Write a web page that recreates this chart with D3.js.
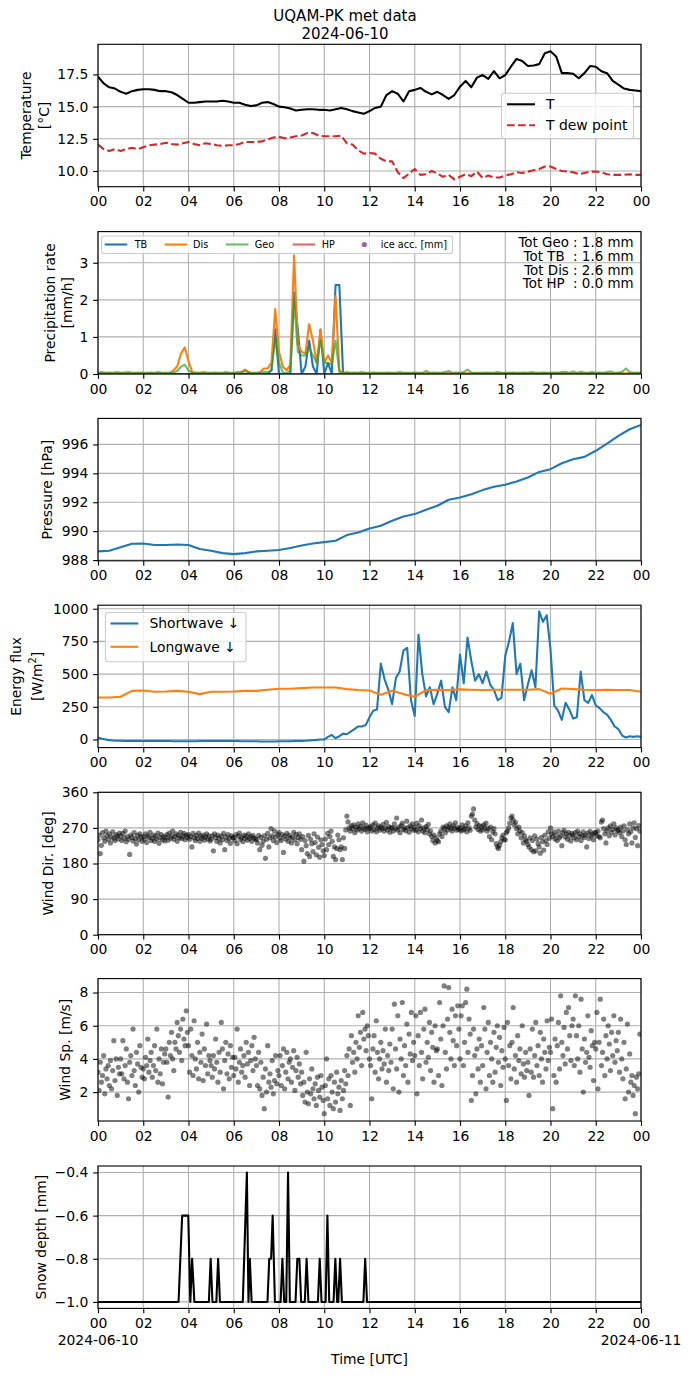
<!DOCTYPE html>
<html>
<head>
<meta charset="utf-8">
<script src="https://cdn.jsdelivr.net/npm/d3@7"></script>
<style>
  body { margin: 0; background: #fff; }
  svg text { font-family: "DejaVu Sans", sans-serif; }
</style>
</head>
<body>
<script>
// ---- data ----
const day0 = new Date(Date.UTC(2024, 5, 10));
const day1 = new Date(Date.UTC(2024, 5, 11));

// temperature [°C], every 15 min
const tempStep = 15;
const airTemp = [
  17.32, 16.8, 16.5, 16.4, 16.15, 16.0, 16.2, 16.3, 16.35, 16.35, 16.3, 16.2,
  16.2, 16.12, 15.9, 15.6, 15.3, 15.3, 15.35, 15.4, 15.4, 15.4, 15.45, 15.4,
  15.3, 15.3, 15.15, 15.05, 15.1, 15.3, 15.35, 15.2, 15.0, 14.95, 14.85, 14.7,
  14.75, 14.8, 14.8, 14.75, 14.75, 14.7, 14.8, 14.9, 14.8, 14.65, 14.55, 14.45,
  14.65, 14.9, 15.0, 15.9, 16.2, 16.0, 15.4, 16.2, 16.3, 16.45, 16.15, 15.95,
  16.15, 15.9, 15.6, 15.9, 16.55, 17.0, 16.5, 17.25, 17.45, 17.15, 17.75, 17.2,
  17.45, 18.1, 18.7, 18.55, 18.15, 18.2, 18.3, 19.15, 19.3, 18.9, 17.6, 17.6,
  17.55, 17.2, 17.6, 18.15, 18.1, 17.75, 17.6, 17.0, 16.7, 16.4, 16.3, 16.25,
  16.2
];
const dewPoint = [
  12.05, 11.7, 11.55, 11.7, 11.55, 11.7, 11.8, 11.7, 11.85, 12.0, 12.05, 12.1,
  12.2, 12.1, 12.05, 12.15, 12.25, 12.1, 12.0, 12.15, 12.1, 12.0, 11.95, 12.0,
  12.0, 12.1, 12.25, 12.25, 12.25, 12.3, 12.45, 12.6, 12.65, 12.55, 12.6, 12.7,
  12.75, 12.95, 12.95, 12.75, 12.7, 12.7, 12.7, 12.75, 12.15, 12.05, 11.6, 11.35,
  11.4, 11.35, 10.95, 10.75, 10.75, 9.9, 9.45, 9.8, 10.15, 9.7, 9.75, 10.0,
  9.8, 9.55, 9.7, 9.35, 9.55, 9.75, 9.6, 9.95, 9.45, 9.65, 9.5, 9.5,
  9.65, 9.75, 9.9, 9.85, 9.95, 10.05, 10.15, 10.35, 10.35, 10.15, 10.0, 9.95,
  9.9, 9.75, 9.85, 9.95, 9.95, 9.9, 9.75, 9.7, 9.7, 9.7, 9.75, 9.7,
  9.7
];

// precipitation rate [mm/h], every 10 min
const precipStep = 10;
const rateTB = [
  0, 0, 0, 0, 0, 0,  0, 0, 0, 0, 0, 0,  0, 0, 0, 0, 0, 0,  0, 0, 0, 0, 0, 0,
  0, 0, 0, 0, 0, 0,  0, 0, 0, 0, 0, 0,  0, 0, 0, 0, 0, 0,
  0, 0, 0, 0, 0.1, 1.2,
  0, 0, 0, 0, 2.2, 1.2,
  0, 0.2, 0.9, 0.2, 0, 1.2,
  0, 0.3, 0, 2.4, 2.4, 0,
  0, 0, 0, 0, 0, 0,  0, 0, 0, 0, 0, 0,  0, 0, 0, 0, 0, 0,  0, 0, 0, 0, 0, 0,
  0, 0, 0, 0, 0, 0,  0, 0, 0, 0, 0, 0,  0, 0, 0, 0, 0, 0,  0, 0, 0, 0, 0, 0,
  0, 0, 0, 0, 0, 0,  0, 0, 0, 0, 0, 0,  0, 0, 0, 0, 0, 0,  0, 0, 0, 0, 0, 0,
  0, 0, 0, 0, 0, 0,
  0
];
const rateDis = [
  0.02, 0.02, 0.02, 0.02, 0.02, 0.02,
  0.02, 0.02, 0.02, 0.02, 0.02, 0.02,
  0.02, 0.02, 0.02, 0.02, 0.02, 0.02,
  0.02, 0.02, 0.1, 0.2, 0.55, 0.72,
  0.35, 0.05, 0.02, 0.02, 0.02, 0.02,
  0.02, 0.02, 0.02, 0.02, 0.02, 0.02,
  0.02, 0.02, 0.05, 0.12, 0.05, 0.02,
  0.02, 0.05, 0.15, 0.15, 0.3, 1.75,
  0.6, 0.2, 0.1, 0.25, 3.2, 0.8,
  0.6, 0.55, 1.35, 0.9, 0.3, 1.2,
  0.3, 0.5, 0.3, 2.1, 0.1, 0.02,
  0.05, 0.02, 0.02, 0.02, 0.02, 0.02,
  0.02, 0.02, 0.02, 0.02, 0.02, 0.02,
  0.02, 0.02, 0.02, 0.02, 0.02, 0.02,
  0.02, 0.02, 0.02, 0.02, 0.02, 0.02,
  0.02, 0.02, 0.02, 0.02, 0.02, 0.02,
  0.02, 0.02, 0.02, 0.02, 0.02, 0.02,
  0.02, 0.02, 0.02, 0.02, 0.02, 0.02,
  0.02, 0.02, 0.02, 0.02, 0.02, 0.02,
  0.02, 0.02, 0.02, 0.02, 0.02, 0.02,
  0.02, 0.02, 0.02, 0.02, 0.02, 0.02,
  0.02, 0.02, 0.02, 0.02, 0.02, 0.02,
  0.02, 0.02, 0.02, 0.02, 0.02, 0.02,
  0.02, 0.02, 0.02, 0.02, 0.02, 0.02,
  0.02
];
const rateGeo = [
  0.03, 0.05, 0.03, 0.04, 0.03, 0.05,
  0.03, 0.04, 0.05, 0.03, 0.03, 0.04,
  0.03, 0.03, 0.04, 0.03, 0.05, 0.03,
  0.03, 0.03, 0.04, 0.08, 0.2, 0.25,
  0.1, 0.03, 0.04, 0.03, 0.05, 0.03,
  0.03, 0.04, 0.03, 0.03, 0.05, 0.03,
  0.03, 0.05, 0.04, 0.08, 0.04, 0.03,
  0.03, 0.03, 0.05, 0.05, 0.1, 0.95,
  0.3, 0.05, 0.02, 0.1, 2.0, 0.6,
  0.5, 0.5, 0.7, 0.5, 0.3, 0.9,
  0.3, 0.3, 0.25, 0.9, 0.05, 0.03,
  0.03, 0.03, 0.04, 0.03, 0.05, 0.03,
  0.03, 0.04, 0.03, 0.03, 0.03, 0.04,
  0.03, 0.03, 0.05, 0.03, 0.03, 0.03,
  0.04, 0.03, 0.03, 0.08, 0.03, 0.04,
  0.03, 0.03, 0.05, 0.08, 0.03, 0.04,
  0.03, 0.05, 0.12, 0.04, 0.03, 0.03,
  0.03, 0.04, 0.03, 0.03, 0.05, 0.03,
  0.03, 0.03, 0.04, 0.03, 0.03, 0.04,
  0.03, 0.05, 0.03, 0.03, 0.04, 0.03,
  0.03, 0.04, 0.03, 0.05, 0.06, 0.03,
  0.07, 0.03, 0.06, 0.04, 0.03, 0.05,
  0.03, 0.04, 0.03, 0.05, 0.07, 0.03,
  0.04, 0.06, 0.15, 0.05, 0.03, 0.04,
  0.03
];
// hot plate, hourly
const hpStep = 60;
const rateHP = [0, 0, 0, 0, 0, 0, 0, 0, 0, 0, 0, 0, 0, 0, 0, 0, 0, 0, 0, 0, 0, 0, 0, 0, 0];
const totalNames = ["Geo", "TB ", "Dis", "HP "];
const totalValues = [1.8, 1.6, 2.6, 0.0];

// pressure [hPa], every 30 min
const pressStep = 30;
const pressure = [
  988.6, 988.65, 988.88, 989.13, 989.15, 989.04, 989.04, 989.08, 989.04, 988.76,
  988.65, 988.48, 988.41, 988.48, 988.6, 988.65, 988.7, 988.83, 989.01, 989.15,
  989.24, 989.34, 989.73, 989.91, 990.19, 990.37, 990.72, 991.02, 991.18, 991.48,
  991.76, 992.17, 992.33, 992.56, 992.84, 993.07, 993.21, 993.44, 993.71, 994.1,
  994.29, 994.7, 994.98, 995.14, 995.56, 996.06, 996.59, 997.05, 997.35
];

// radiation [W/m2]
const swStep = 10;
const shortwave = [
  15, 5, 0, -5, -8, -10,
  -10, -12, -12, -12, -12, -12,
  -12, -12, -12, -12, -12, -12,
  -12, -12, -13, -13, -13, -13,
  -13, -13, -13, -12, -12, -12,
  -12, -12, -12, -12, -12, -12,
  -12, -12, -13, -13, -13, -14,
  -14, -15, -15, -15, -15, -15,
  -14, -14, -13, -13, -12, -12,
  -11, -10, -8, -5, -3, 0,
  0, 20, 35, 10, 25, 45,
  40, 60, 80, 100, 100, 110,
  170, 220, 230, 580, 460, 380,
  270, 470, 520, 680, 700, 300,
  180, 800, 500, 330, 400, 270,
  350, 450, 250, 210, 400, 300,
  650, 430, 780, 600, 450, 500,
  430, 520, 420, 380, 300, 320,
  640, 750, 890, 500, 580, 300,
  420, 530, 400, 980, 900, 950,
  690, 260, 220, 150, 280, 230,
  160, 170, 520, 300, 280, 340,
  260, 240, 210, 190, 150, 100,
  80, 30, 15, 25, 20, 25,
  20
];
const lwStep = 30;
const longwave = [
  321, 321, 327, 372, 375, 365, 367, 372, 365, 347,
  365, 365, 367, 372, 372, 380, 388, 388, 393, 398,
  398, 398, 385, 378, 375, 342, 372, 347, 327, 378,
  380, 378, 383, 380, 378, 380, 380, 380, 380, 385,
  350, 390, 385, 380, 378, 380, 378, 378, 365
];

// wind, every 3 min (one row per hour)
const windStep = 3;
const windDir = [
  240, 252, 205, 226, 258, 245, 236, 262, 250, 241, 255, 232, 247, 260, 244, 238, 253, 249, 242, 257,
  250, 238, 256, 244, 262, 235, 248, 241, 203, 252, 246, 237, 258, 243, 229, 251, 240, 255, 247, 236,
  248, 241, 255, 233, 250, 246, 259, 238, 244, 252, 236, 249, 242, 257, 231, 245, 253, 240, 248, 237,
  246, 253, 239, 257, 244, 250, 262, 241, 248, 255, 236, 251, 245, 259, 243, 249, 256, 240, 252, 246,
  253, 241, 248, 222, 256, 245, 238, 251, 243, 257, 236, 249, 244, 252, 239, 247, 255, 242, 250, 237,
  241, 250, 212, 255, 246, 236, 252, 244, 232, 249, 240, 256, 215, 247, 238, 253, 243, 231, 250, 245,
  246, 238, 253, 230, 249, 257, 241, 246, 235, 252, 244, 250, 239, 255, 243, 248, 236, 251, 245, 242,
  240, 232, 251, 215, 246, 226, 236, 250, 193, 241, 256, 222, 245, 268, 250, 238, 262, 247, 233, 253,
  258, 244, 238, 253, 208, 249, 242, 256, 236, 251, 245, 232, 247, 259, 240, 253, 230, 246, 255, 241,
  215, 248, 186, 238, 225, 205, 251, 198, 241, 230, 210, 255, 233, 202, 247, 221, 196, 240, 228, 212,
  200, 242, 215, 256, 228, 248, 262, 236, 198, 222, 190, 218, 252, 240, 215, 222, 190, 245, 218, 265,
  300, 285, 270, 262, 275, 268, 278, 258, 272, 265, 280, 268, 274, 262, 283, 270, 266, 277, 260, 271,
  268, 273, 262, 278, 266, 282, 260, 270, 275, 264, 272, 268, 279, 262, 270, 284, 265, 273, 259, 271,
  270, 262, 280, 268, 295, 265, 272, 258, 276, 282, 266, 270, 263, 287, 271, 259, 275, 268, 280, 264,
  272, 265, 282, 260, 275, 268, 290, 262, 270, 258, 273, 266, 279, 255, 262, 248, 238, 252, 232, 245,
  238, 235, 255, 262, 248, 272, 268, 258, 275, 265, 272, 280, 268, 262, 276, 270, 283, 264, 271, 266,
  270, 262, 278, 265, 268, 275, 260, 283, 270, 264, 300, 305, 318, 290, 272, 281, 266, 276, 262, 273,
  265, 278, 270, 282, 262, 268, 248, 272, 240, 260, 268, 255, 230, 222, 218, 226, 235, 245, 252, 240,
  240, 258, 262, 270, 282, 295, 300, 290, 278, 284, 268, 255, 272, 262, 245, 258, 232, 250, 240, 236,
  228, 222, 245, 215, 238, 210, 250, 212, 242, 230, 222, 206, 246, 235, 214, 252, 238, 228, 260, 244,
  270, 255, 248, 260, 242, 252, 238, 262, 245, 250, 225, 258, 264, 247, 255, 241, 259, 250, 237, 256,
  252, 245, 258, 240, 262, 248, 255, 238, 250, 260, 246, 252, 222, 257, 243, 261, 249, 254, 240, 258,
  258, 250, 262, 248, 245, 285, 290, 268, 255, 232, 262, 270, 250, 275, 259, 266, 280, 252, 270, 263,
  265, 258, 272, 248, 262, 275, 240, 228, 265, 255, 280, 260, 232, 270, 283, 246, 268, 225, 276, 262
];
const windSpeed = [
  3.2, 2.1, 3.8, 2.6, 3.0, 4.2, 1.9, 3.4, 2.8, 3.6, 2.4, 3.9, 2.2, 3.3, 5.1, 2.7, 4.0, 1.8, 3.5, 3.1,
  4.0, 3.1, 5.1, 2.8, 3.6, 4.6, 2.6, 1.6, 3.8, 4.2, 3.0, 5.8, 3.3, 2.4, 4.4, 3.7, 2.0, 4.8, 3.5, 2.9,
  3.4, 2.8, 4.1, 3.6, 5.2, 3.2, 3.9, 4.4, 2.9, 3.6, 4.8, 3.3, 5.8, 2.6, 4.0, 3.1, 4.6, 2.5, 3.8, 4.3,
  4.6, 3.8, 1.7, 5.0, 4.2, 5.6, 4.0, 3.3, 5.0, 4.6, 6.2, 5.4, 4.4, 5.8, 3.9, 6.4, 5.2, 4.8, 6.9, 5.6,
  4.8, 3.2, 5.8, 4.2, 3.0, 6.3, 4.0, 3.4, 5.0, 2.8, 4.4, 3.8, 5.5, 2.7, 4.6, 3.6, 6.1, 3.1, 4.2, 3.9,
  3.6, 2.9, 4.2, 3.4, 5.2, 3.8, 2.6, 4.4, 3.2, 6.2, 4.6, 2.2, 3.9, 5.0, 3.1, 4.3, 2.8, 4.8, 3.5, 4.1,
  3.0, 4.1, 3.4, 5.8, 2.6, 3.8, 4.6, 3.2, 3.6, 4.2, 2.9, 5.0, 3.7, 4.4, 2.4, 3.9, 4.8, 3.3, 5.3, 4.0,
  3.6, 2.4, 4.4, 2.2, 3.8, 1.8, 2.9, 1.0, 3.4, 2.0, 4.8, 2.6, 3.1, 2.3, 3.9, 1.9, 2.7, 4.2, 2.5, 3.3,
  3.0, 4.2, 2.4, 3.6, 4.6, 2.2, 3.2, 4.4, 2.8, 3.8, 4.0, 2.6, 3.5, 4.5, 2.1, 3.3, 4.1, 2.9, 3.7, 2.5,
  3.2, 1.8, 2.6, 1.4, 4.4, 2.0, 1.3, 2.8, 1.9, 3.4, 2.2, 1.6, 2.5, 1.2, 2.9, 2.1, 1.7, 3.0, 2.3, 1.5,
  0.7, 2.4, 4.0, 1.6, 2.8, 1.2, 3.0, 2.0, 1.0, 2.6, 1.4, 3.2, 1.9, 2.3, 0.9, 2.7, 1.6, 2.1, 3.3, 2.5,
  4.2, 3.0, 4.6, 1.2, 5.4, 3.8, 4.4, 3.2, 5.0, 4.0, 6.6, 4.7, 5.6, 3.6, 6.8, 5.2, 5.8, 4.5, 6.0, 5.4,
  4.0, 3.6, 1.6, 4.6, 5.4, 3.2, 6.3, 4.4, 2.8, 4.0, 5.0, 3.4, 4.5, 3.7, 5.8, 2.6, 4.2, 3.3, 4.9, 3.8,
  5.8, 2.2, 7.3, 4.6, 3.4, 6.6, 2.0, 5.2, 4.0, 7.4, 3.0, 4.8, 3.6, 6.1, 2.6, 5.5, 4.3, 6.8, 3.9, 5.0,
  4.2, 6.6, 1.9, 5.4, 3.6, 6.8, 4.4, 2.8, 5.8, 7.0, 3.8, 5.0, 4.1, 6.2, 3.3, 5.6, 4.7, 2.6, 6.0, 4.5,
  4.6, 3.0, 7.4, 5.2, 2.4, 6.0, 8.4, 4.4, 3.4, 6.4, 8.3, 5.6, 4.0, 7.0, 5.1, 3.6, 6.6, 4.8, 7.2, 5.8,
  4.0, 6.6, 7.2, 3.6, 5.0, 7.4, 8.2, 4.4, 6.4, 5.5, 1.5, 3.0, 5.8, 4.2, 1.9, 4.6, 3.4, 5.2, 2.6, 4.8,
  3.6, 7.1, 5.8, 2.2, 4.4, 6.2, 3.0, 5.0, 4.0, 2.6, 5.6, 3.2, 4.7, 6.0, 3.8, 5.3, 2.4, 4.5, 3.5, 5.9,
  4.0, 1.5, 6.2, 3.6, 4.8, 2.8, 5.0, 7.1, 3.4, 4.2, 2.6, 5.4, 3.9, 4.6, 3.1, 6.0, 3.7, 2.9, 4.4, 3.3,
  3.8, 1.8, 4.6, 3.2, 5.8, 2.9, 4.2, 6.2, 3.6, 4.8, 3.0, 5.6, 4.0, 2.6, 5.2, 4.4, 3.4, 6.3, 3.9, 4.7,
  4.4, 6.4, 1.0, 3.0, 5.2, 2.6, 4.8, 6.2, 3.4, 7.8, 5.0, 4.2, 5.9, 3.7, 6.8, 4.6, 7.1, 5.4, 3.9, 6.0,
  6.4, 3.6, 7.8, 5.4, 4.0, 6.0, 3.2, 7.6, 4.6, 2.0, 5.2, 3.8, 4.4, 6.6, 4.1, 3.5, 5.7, 4.8, 2.7, 5.0,
  4.6, 6.8, 2.2, 5.0, 7.6, 3.6, 4.4, 6.4, 3.0, 5.4, 4.0, 6.0, 4.9, 3.3, 5.6, 4.2, 6.6, 3.8, 5.1, 4.5,
  5.6, 3.2, 6.4, 4.0, 2.8, 5.0, 1.6, 3.4, 6.1, 2.0, 4.3, 2.6, 3.0, 1.8, 2.4, 0.7, 2.9, 2.2, 3.1, 5.5
];

// snow depth [mm] at irregular times (hours UTC)
const snowHours = [
  0, 3.56, 3.72, 3.99, 4.08, 4.16, 4.26, 4.9, 4.98, 5.06, 5.23, 5.31, 5.39,
  6.4, 6.58, 6.65, 6.71, 6.79, 7.49, 7.57, 7.65, 7.72, 7.82, 8.07, 8.15, 8.23,
  8.32, 8.4, 8.48, 8.73, 8.81, 8.9, 8.98, 9.14, 9.22, 9.3, 9.72, 9.8, 9.88,
  10.06, 10.14, 10.22, 10.41, 10.49, 10.57, 10.62, 10.7, 10.78, 11.73, 11.81, 11.89, 24
];
const snowDepth = [
  -1, -1, -0.6, -0.6, -1, -0.8, -1, -1, -0.8, -1, -1, -0.8, -1,
  -1, -0.4, -1, -0.8, -1, -1, -0.8, -0.8, -0.6, -1, -1, -0.8, -1,
  -1, -0.4, -1, -1, -0.8, -0.8, -1, -1, -0.8, -1, -1, -0.8, -1,
  -1, -0.6, -1, -1, -0.8, -1, -1, -0.8, -1, -1, -0.8, -1, -1
];

// ---- layout ----
const width = 690, height = 1377;
const pt = 100 / 72;
const left = 98, right = 641, panelH = 142.4;
const tops = [44.3, 231.6, 418.4, 605.2, 792.3, 978.6, 1166];
const fs = 13.9;
const lw = 1.5 * pt;

const svg = d3.select("body").append("svg")
  .attr("width", width).attr("height", height);
svg.append("rect").attr("width", width).attr("height", height).attr("fill", "#fff");

const x = d3.scaleUtc().domain([day0, day1]).range([left, right]);
const xTicks = x.ticks(d3.utcHour.every(2));

// turn a regular series into {t, v}
const series = (values, step) =>
  values.map((v, i) => ({ t: new Date(+day0 + i * step * 60000), v }));

function styleAxis(a) {
  a.attr("font-family", null).attr("font-size", null);
  a.select(".domain").remove();
  a.selectAll(".tick line").attr("stroke", "#000").attr("stroke-width", 0.8 * pt);
  a.selectAll(".tick text").attr("fill", "#000").attr("font-size", fs);
}

function makePanel(i, yDomain, yTicks, yFmt, label, labelX) {
  const top = tops[i], bottom = top + panelH;
  const y = d3.scaleLinear().domain(yDomain).range([bottom, top]);
  const g = svg.append("g");

  svg.append("clipPath").attr("id", "clip" + i).append("rect")
    .attr("x", left).attr("y", top).attr("width", right - left).attr("height", panelH);

  // grid
  g.append("g").selectAll("line").data(xTicks).join("line")
    .attr("x1", d => x(d)).attr("x2", d => x(d))
    .attr("y1", top).attr("y2", bottom)
    .attr("stroke", "#b0b0b0").attr("stroke-width", 0.8 * pt);
  g.append("g").selectAll("line").data(yTicks).join("line")
    .attr("x1", left).attr("x2", right)
    .attr("y1", d => y(d)).attr("y2", d => y(d))
    .attr("stroke", "#b0b0b0").attr("stroke-width", 0.8 * pt);

  const plot = g.append("g").attr("clip-path", `url(#clip${i})`);

  const xAxis = g.append("g").attr("transform", `translate(0,${bottom})`)
    .call(d3.axisBottom(x).tickValues(xTicks).tickFormat(d3.utcFormat("%H"))
      .tickSize(3.5 * pt).tickPadding(3.5 * pt))
    .call(styleAxis);
  g.append("g").attr("transform", `translate(${left},0)`)
    .call(d3.axisLeft(y).tickValues(yTicks).tickFormat(yFmt)
      .tickSize(3.5 * pt).tickPadding(3.5 * pt))
    .call(styleAxis);

  g.append("rect")
    .attr("x", left).attr("y", top).attr("width", right - left).attr("height", panelH)
    .attr("fill", "none").attr("stroke", "#000").attr("stroke-width", 0.8 * pt);

  // y label, one text per line
  const cy = (top + bottom) / 2;
  label.forEach((line, k) => {
    const t = g.append("text")
      .attr("transform", `translate(${labelX[k]},${cy}) rotate(-90)`)
      .attr("text-anchor", "middle").attr("dy", "0.35em")
      .attr("font-size", fs).attr("fill", "#000");
    const parts = line.split("^");
    if (parts.length === 1) {
      t.text(line);
    } else {
      t.append("tspan").text(parts[0]);
      t.append("tspan").attr("dy", -5.5).attr("font-size", fs * 0.7).text(parts[1][0]);
      t.append("tspan").attr("dy", 5.5).text(parts[1].slice(1));
    }
  });

  return { g, plot, y, xAxis, top, bottom };
}

function drawLine(p, data, color, extra) {
  const path = p.plot.append("path")
    .datum(data)
    .attr("fill", "none")
    .attr("stroke", color)
    .attr("stroke-width", lw)
    .attr("stroke-linejoin", "round")
    .attr("d", d3.line().x(d => x(d.t)).y(d => p.y(d.v)));
  if (extra) extra(path);
  return path;
}

function drawDots(p, data) {
  p.plot.append("g").selectAll("circle").data(data).join("circle")
    .attr("cx", d => x(d.t)).attr("cy", d => p.y(d.v)).attr("r", 2.6)
    .attr("fill", "#000").attr("fill-opacity", 0.5);
}

function legendBox(g, x0, y0, w, h) {
  g.append("rect")
    .attr("x", x0).attr("y", y0).attr("width", w).attr("height", h)
    .attr("rx", 2.8)
    .attr("fill", "#fff").attr("fill-opacity", 0.8)
    .attr("stroke", "#cccccc").attr("stroke-width", 0.8 * pt);
}

// ---- title ----
svg.append("text").attr("x", width / 2).attr("y", 21)
  .attr("text-anchor", "middle").attr("font-size", 15).text("UQAM-PK met data");
svg.append("text").attr("x", width / 2).attr("y", 39)
  .attr("text-anchor", "middle").attr("font-size", 15).text("2024-06-10");

// ---- 1: temperature ----
const p1 = makePanel(0, [8.78, 19.84], [10, 12.5, 15, 17.5], d3.format(".1f"),
  ["Temperature", "[°C]"], [26.5, 44.5]);
drawLine(p1, series(airTemp, tempStep), "#000");
drawLine(p1, series(dewPoint, tempStep), "#d62728",
  path => path.attr("stroke-dasharray", `${3.7 * lw},${1.6 * lw}`));

legendBox(p1.g, 501.5, 93.3, 132, 45.2);
[["T", "#000", null], ["T dew point", "#d62728", `${3.7 * lw},${1.6 * lw}`]]
  .forEach(([name, color, dash], k) => {
    const yy = 104.3 + k * 21;
    p1.g.append("line").attr("x1", 507).attr("x2", 535).attr("y1", yy).attr("y2", yy)
      .attr("stroke", color).attr("stroke-width", lw).attr("stroke-dasharray", dash);
    p1.g.append("text").attr("x", 546).attr("y", yy).attr("dy", "0.35em")
      .attr("font-size", fs).text(name);
  });

// ---- 2: precipitation ----
const p2 = makePanel(1, [0, 3.84], [0, 1, 2, 3], d3.format("d"),
  ["Precipitation rate", "[mm/h]"], [50, 67]);
const precipColors = { TB: "#1f77b4", Dis: "#ff7f0e", Geo: "#2ca02c", HP: "#d62728" };
drawLine(p2, series(rateTB, precipStep), precipColors.TB);
drawLine(p2, series(rateDis, precipStep), precipColors.Dis);
drawLine(p2, series(rateGeo, precipStep), precipColors.Geo, path => path.attr("stroke-opacity", 0.7));
drawLine(p2, series(rateHP, hpStep), precipColors.HP, path => path.attr("stroke-opacity", 0.7));

legendBox(p2.g, 101.5, 236, 351, 17.5);
const fsSmall = 9.7;
[["TB", 104.7, 134.7, 1], ["Dis", 164.7, 193, 1], ["Geo", 226, 254.7, 0.7], ["HP", 292.7, 321.7, 0.7]]
  .forEach(([name, x0, tx, op]) => {
    p2.g.append("line").attr("x1", x0).attr("x2", x0 + 22.5).attr("y1", 244.5).attr("y2", 244.5)
      .attr("stroke", precipColors[name]).attr("stroke-opacity", op).attr("stroke-width", lw);
    p2.g.append("text").attr("x", tx).attr("y", 244.5).attr("dy", "0.35em")
      .attr("font-size", fsSmall).text(name);
  });
p2.g.append("circle").attr("cx", 364.3).attr("cy", 244.5).attr("r", 2.6).attr("fill", "#9467bd");
p2.g.append("text").attr("x", 380.7).attr("y", 244.5).attr("dy", "0.35em")
  .attr("font-size", fsSmall).text("ice acc. [mm]");

totalNames.forEach((name, k) => {
  p2.g.append("text")
    .attr("x", 633.5).attr("y", 246.7 + k * 13.9)
    .attr("text-anchor", "end").attr("font-size", 13.4)
    .style("white-space", "pre")
    .text(`Tot ${name} : ${totalValues[k].toFixed(1)} mm`);
});

// ---- 3: pressure ----
const p3 = makePanel(2, [987.95, 997.8], [988, 990, 992, 994, 996], d3.format("d"),
  ["Pressure [hPa]"], [47.5]);
drawLine(p3, series(pressure, pressStep), "#1f77b4");

// ---- 4: radiation ----
const p4 = makePanel(3, [-62, 1027], [0, 250, 500, 750, 1000], d3.format("d"),
  ["Energy flux", "[W/m^2]"], [16, 37]);
drawLine(p4, series(shortwave, swStep), "#1f77b4");
drawLine(p4, series(longwave, lwStep), "#ff7f0e");

legendBox(p4.g, 105.5, 612.5, 140.5, 49.2);
[["Shortwave ↓", "#1f77b4"], ["Longwave ↓", "#ff7f0e"]].forEach(([name, color], k) => {
  const yy = 623.5 + k * 23.3;
  p4.g.append("line").attr("x1", 110.5).attr("x2", 138.3).attr("y1", yy).attr("y2", yy)
    .attr("stroke", color).attr("stroke-width", lw);
  p4.g.append("text").attr("x", 149.5).attr("y", yy).attr("dy", "0.35em")
    .attr("font-size", fs).text(name);
});

// ---- 5: wind direction ----
const p5 = makePanel(4, [0, 360], [0, 90, 180, 270, 360], d3.format("d"),
  ["Wind Dir. [deg]"], [48]);
drawDots(p5, series(windDir, windStep));

// ---- 6: wind speed ----
const p6 = makePanel(5, [0.26, 8.84], [2, 4, 6, 8], d3.format("d"),
  ["Wind Sp. [m/s]"], [65]);
drawDots(p6, series(windSpeed, windStep));

// ---- 7: snow depth ----
const p7 = makePanel(6, [-1.03, -0.37], [-1.0, -0.8, -0.6, -0.4], d3.format(".1f"),
  ["Snow depth [mm]"], [41]);
const snowData = snowHours.map((h, i) => ({ t: new Date(+day0 + h * 3600000), v: snowDepth[i] }));
drawLine(p7, snowData, "#000");

// day labels under the first and last tick
[[day0, "2024-06-10"], [day1, "2024-06-11"]].forEach(([d, s]) => {
  svg.append("text").attr("x", x(d)).attr("y", 1344.5)
    .attr("text-anchor", "middle").attr("font-size", fs).text(s);
});
svg.append("text").attr("x", (left + right) / 2).attr("y", 1364)
  .attr("text-anchor", "middle").attr("font-size", fs).text("Time [UTC]");
</script>
</body>
</html>
